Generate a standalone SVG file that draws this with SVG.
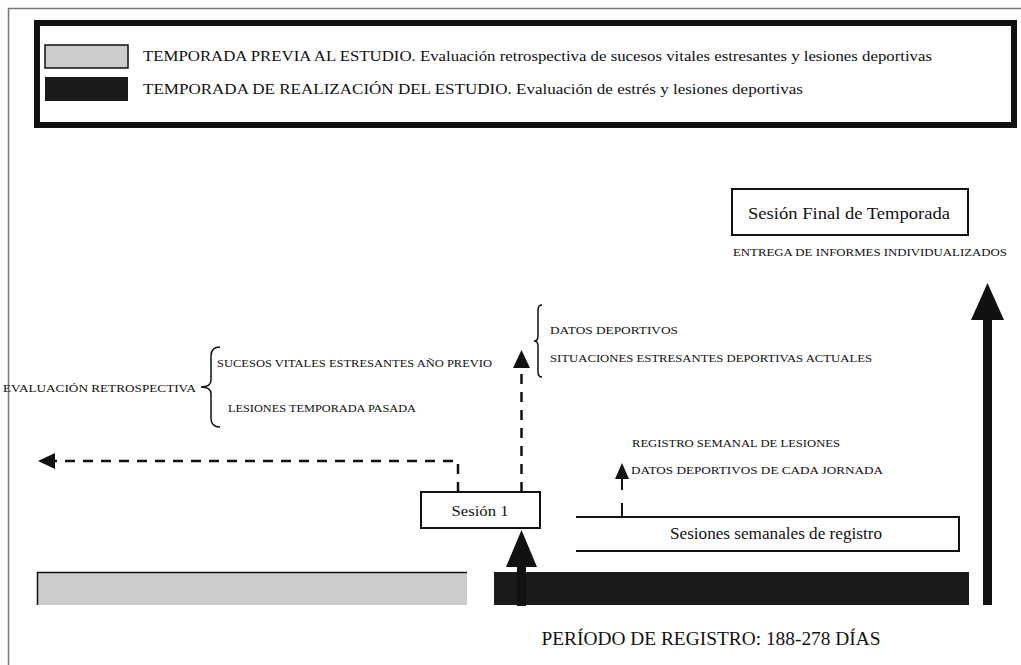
<svg xmlns="http://www.w3.org/2000/svg" width="1021" height="665" viewBox="0 0 1021 665">
<style>
.serif{font-family:"Liberation Serif","Times New Roman",serif;fill:#111}
.sm{font-size:11px}
.box{fill:#fff;stroke:#111;stroke-width:2}
.dash{fill:none;stroke:#111;stroke-width:2.5;stroke-dasharray:10 8}
.thin{fill:none;stroke:#111;stroke-width:1.5}
</style>
<rect x="0" y="0" width="1021" height="665" fill="#fff"/>
<g id="frame">
<path d="M8.5 665 V8.5 H1021" fill="none" stroke="#777" stroke-width="1.5"/>
</g>
<g id="legend">
<rect x="37" y="23" width="977" height="102" fill="#fff" stroke="#111" stroke-width="6"/>
<rect x="45" y="45" width="83" height="23" fill="#ccc" stroke="#111" stroke-width="1.5"/>
<rect x="45" y="77" width="83" height="24" fill="#1a1a1a"/>
<text class="serif" x="143" y="61" font-size="15" textLength="789" lengthAdjust="spacingAndGlyphs">TEMPORADA PREVIA AL ESTUDIO. Evaluación retrospectiva de sucesos vitales estresantes y lesiones deportivas</text>
<text class="serif" x="143" y="94" font-size="15" textLength="660" lengthAdjust="spacingAndGlyphs">TEMPORADA DE REALIZACIÓN DEL ESTUDIO. Evaluación de estrés y lesiones deportivas</text>
</g>
<g id="bars">
<rect x="37" y="572" width="430" height="33" fill="#ccc"/>
<path d="M37.5 605 V572.5 H467" fill="none" stroke="#111" stroke-width="1.5"/>
<rect x="494" y="572" width="475" height="33" fill="#1a1a1a"/>
</g>
<g id="sesion-final">
<rect class="box" x="732" y="189" width="236" height="46"/>
<text class="serif" x="849" y="219" font-size="17" text-anchor="middle" textLength="202" lengthAdjust="spacingAndGlyphs">Sesión Final de Temporada</text>
<text class="serif sm" x="733" y="256" textLength="274" lengthAdjust="spacingAndGlyphs">ENTREGA DE INFORMES INDIVIDUALIZADOS</text>
</g>
<g id="sesion-1">
<rect class="box" x="421" y="492" width="119" height="36"/>
<text class="serif" x="480" y="516" font-size="15" text-anchor="middle" textLength="57" lengthAdjust="spacingAndGlyphs">Sesión 1</text>
</g>
<g id="sesiones-semanales">
<path d="M576 517 H959 V551 H576" fill="#fff" stroke="#111" stroke-width="2"/>
<text class="serif" x="776" y="539" font-size="16" text-anchor="middle" textLength="212" lengthAdjust="spacingAndGlyphs">Sesiones semanales de registro</text>
</g>
<g id="retrospectiva">
<text class="serif sm" x="3" y="392" textLength="193" lengthAdjust="spacingAndGlyphs">EVALUACIÓN RETROSPECTIVA</text>
<path class="thin" d="M220 347 Q211 347 211 356 V380 Q211 387 201 387 Q211 387 211 394 V418 Q211 427 220 427"/>
<text class="serif sm" x="217" y="367" textLength="275" lengthAdjust="spacingAndGlyphs">SUCESOS VITALES ESTRESANTES AÑO PREVIO</text>
<text class="serif sm" x="228" y="412" textLength="188" lengthAdjust="spacingAndGlyphs">LESIONES TEMPORADA PASADA</text>
</g>
<g id="datos-actuales">
<path class="thin" d="M542 305 Q538 305 538 310 V336 Q538 341 534 341 Q538 341 538 346 V372 Q538 377 542 377"/>
<text class="serif sm" x="550" y="334" textLength="128" lengthAdjust="spacingAndGlyphs">DATOS DEPORTIVOS</text>
<text class="serif sm" x="550" y="362" textLength="322" lengthAdjust="spacingAndGlyphs">SITUACIONES ESTRESANTES DEPORTIVAS ACTUALES</text>
</g>
<g id="registro-semanal">
<text class="serif sm" x="632" y="447" textLength="208" lengthAdjust="spacingAndGlyphs">REGISTRO SEMANAL DE LESIONES</text>
<text class="serif sm" x="631" y="474" textLength="252" lengthAdjust="spacingAndGlyphs">DATOS DEPORTIVOS DE CADA JORNADA</text>
</g>
<g id="periodo">
<text class="serif" x="711" y="645" font-size="19" text-anchor="middle" textLength="339" lengthAdjust="spacingAndGlyphs">PERÍODO DE REGISTRO: 188-278 DÍAS</text>
</g>
<g id="connectors">
<path class="dash" d="M458 492 V461 H55"/>
<polygon points="38,461 55,453 55,469" fill="#111"/>
<path class="dash" d="M521.5 492 V368"/>
<polygon points="521.5,350 513,368 530,368" fill="#111"/>
<path d="M622 517 V503 M622 490 V478" fill="none" stroke="#111" stroke-width="2"/>
<polygon points="622,463 615,479 629,479" fill="#111"/>
<rect x="517" y="565" width="9" height="41" fill="#111"/>
<polygon points="521.5,530 506,567 537,567" fill="#111"/>
<rect x="983" y="318" width="9" height="287" fill="#111"/>
<polygon points="987.5,283 971,320 1004,320" fill="#111"/>
</g>
</svg>
